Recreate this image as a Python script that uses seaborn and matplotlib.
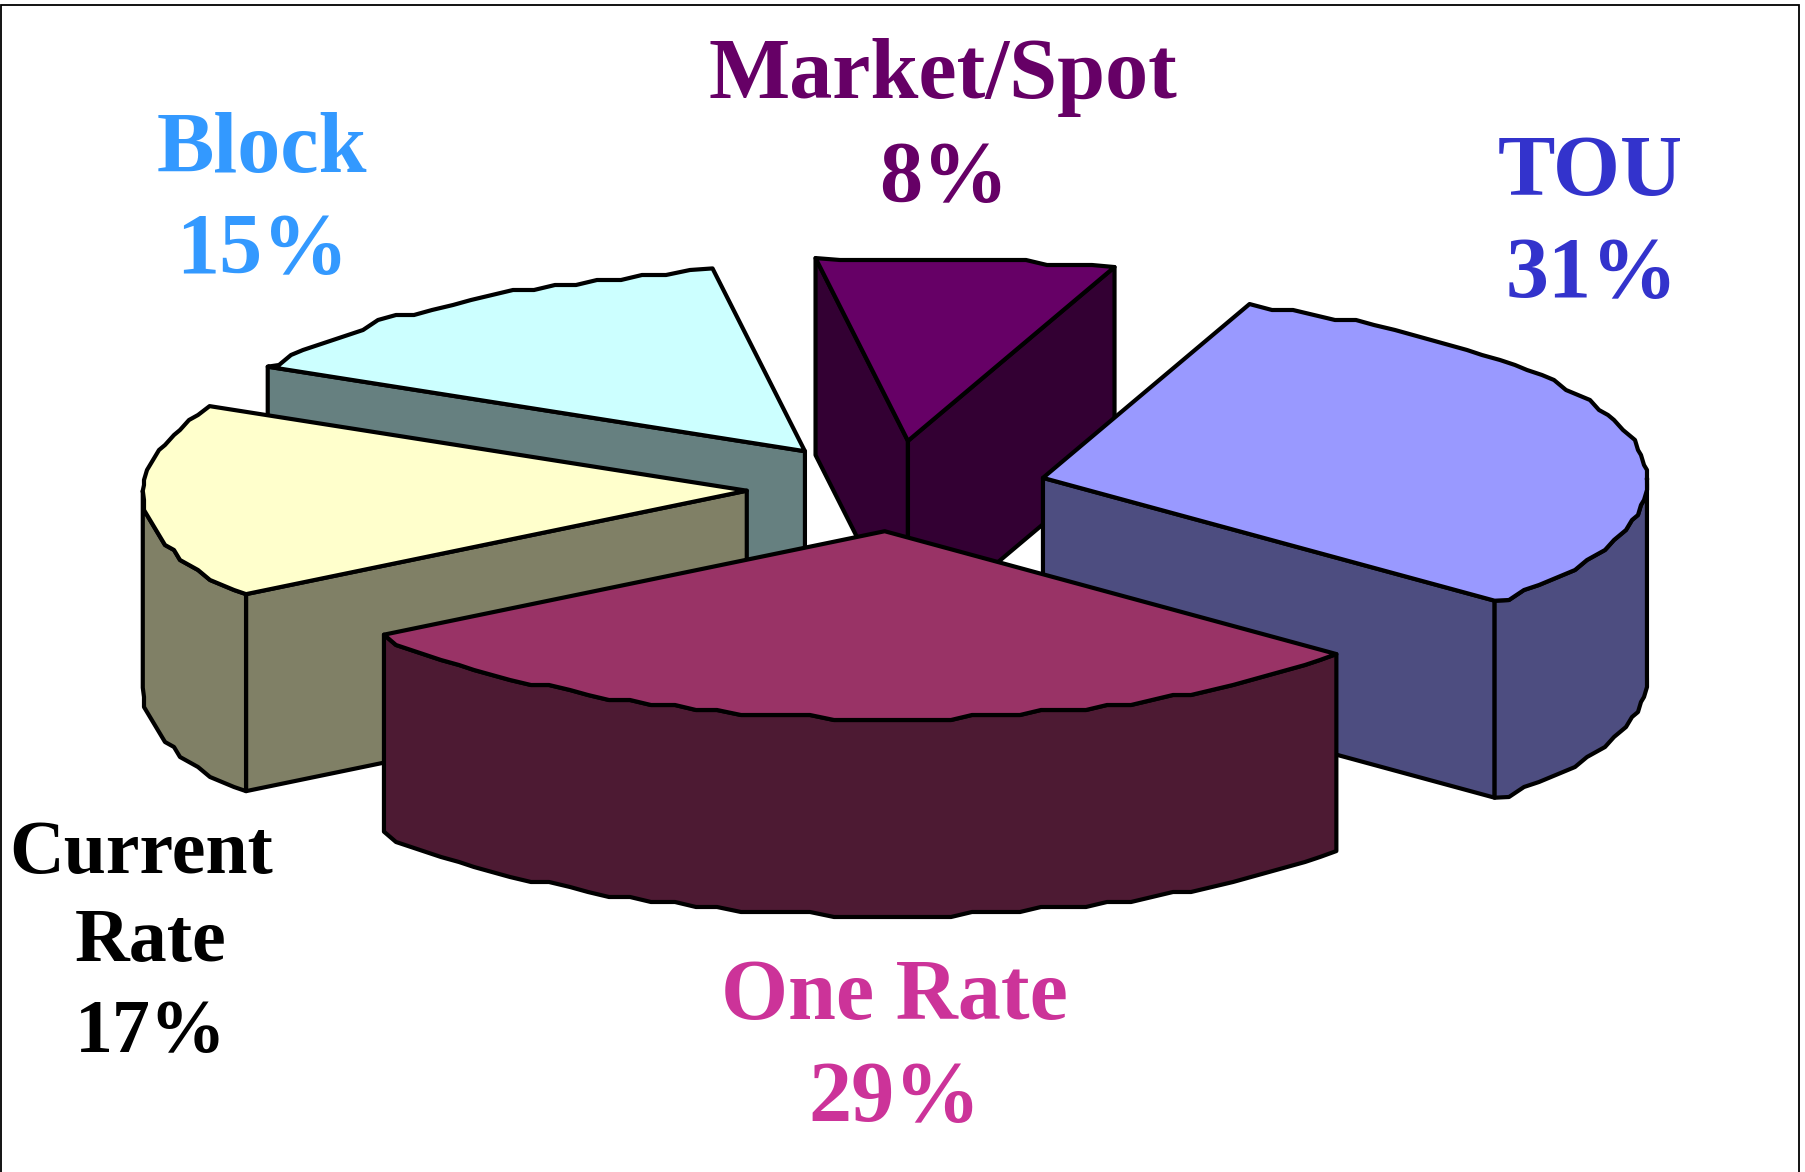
import matplotlib
matplotlib.use("Agg")
import matplotlib.pyplot as plt
import numpy as np
import seaborn as sns
from matplotlib.patches import Polygon, Rectangle

categories = ["TOU", "One Rate", "Current Rate", "Block", "Market/Spot"]
shares = [31, 29, 17, 15, 8]
top_colors = ["#9999FF", "#993366", "#FFFFCC", "#CCFFFF", "#660066"]
text_colors = ["#3333CC", "#CC3399", "#000000", "#3399FF", "#660066"]
draw_order = ["Market/Spot", "Block", "Current Rate", "TOU", "One Rate"]

# layout, in pixels of the output image
CX, CY = 894.5, 486.0
RX, RY = 604.0, 185.0
DEPTH = 197.0
EXPLODE = 0.245
START = 70.0
LW = 3.0
nudge = {"TOU": (5, 3), "One Rate": (0, 0), "Current Rate": (0, 2), "Block": (-3, 2), "Market/Spot": (-1, 0)}

# label lines: centre x and baseline y per line
label_pos = {
    "TOU": [(1590, 195), (1592, 297)],
    "One Rate": [(894, 1019), (895, 1121)],
    "Current Rate": [(141, 873), (151, 961), (151, 1052)],
    "Block": [(262, 172), (262, 273)],
    "Market/Spot": [(943, 98), (944, 201)],
}
label_size = {"Current Rate": 54.5}

sns.set_theme(style="white")
plt.rcParams["font.family"] = ["Liberation Serif", "DejaVu Serif"]


def rim(ax0, ay0, t0, t1):
    # stepped outline, the source chart has coarse jagged arcs
    n = max(int(abs(t1 - t0) / 2.2), 2)
    ts = np.linspace(t0, t1, n + 1)
    breaks = [b for b in (0.0, -180.0, -360.0) if t1 < b < t0]
    ts = np.sort(np.concatenate([ts, breaks]))[::-1]
    xs = ax0 + RX * np.cos(np.radians(ts))
    ys = ay0 - RY * np.sin(np.radians(ts))
    free = (np.arange(len(ts)) > 0) & (np.arange(len(ts)) < len(ts) - 1) & ~np.isin(ts, breaks)
    xs[free] = np.round(xs[free] / 3) * 3
    ys[free] = np.ceil(ys[free] / 5) * 5
    return ts, np.column_stack([xs, ys])


def draw_wedge(ax, name, t0, t1, top):
    mid = np.radians((t0 + t1) / 2)
    ax0 = CX + EXPLODE * RX * np.cos(mid) + nudge[name][0]
    ay0 = CY - EXPLODE * RY * np.sin(mid) + nudge[name][1]
    wall = tuple(c * 0.5 for c in top)
    apex = np.array([ax0, ay0])
    drop = np.array([0, DEPTH])
    ts, outline = rim(ax0, ay0, t0, t1)
    style = dict(edgecolor="black", linewidth=LW, joinstyle="round")

    # only walls facing the viewer, then the rim wall, then the top
    if np.cos(np.radians(t0)) < 0:
        e = outline[0]
        ax.add_patch(Polygon([apex, e, e + drop, apex + drop], facecolor=wall, **style))
    if np.cos(np.radians(t1)) > 0:
        e = outline[-1]
        ax.add_patch(Polygon([apex, e, e + drop, apex + drop], facecolor=wall, **style))
    front = outline[np.sin(np.radians(ts)) <= 1e-9]
    if len(front) > 1:
        ax.add_patch(Polygon(np.vstack([front, (front + drop)[::-1]]), facecolor=wall, **style))
    ax.add_patch(Polygon(np.vstack([apex, outline]), facecolor=top, **style))


fig, ax = plt.subplots(figsize=(18.05, 11.72), dpi=100)
fig.subplots_adjust(0, 0, 1, 1)
ax.set_xlim(0, 1805)
ax.set_ylim(1172, 0)
ax.axis("off")

ax.add_patch(Rectangle((1, 5), 1798, 1200, facecolor="white", edgecolor="black", linewidth=1.3))

angles = START - np.cumsum([0] + shares) * 3.6
spans = {c: (angles[i], angles[i + 1]) for i, c in enumerate(categories)}
palette = dict(zip(categories, sns.color_palette(top_colors)))
for name in draw_order:
    draw_wedge(ax, name, spans[name][0], spans[name][1], palette[name])

for name, share, color in zip(categories, shares, text_colors):
    lines = name.split(" ") if name == "Current Rate" else [name]
    lines = lines + [f"{share}%"]
    for line, (x, y) in zip(lines, label_pos[name]):
        ax.text(x, y, line, ha="center", va="baseline", color=color,
                fontsize=label_size.get(name, 62), fontweight="bold")

fig.savefig("out.png", dpi=100)
